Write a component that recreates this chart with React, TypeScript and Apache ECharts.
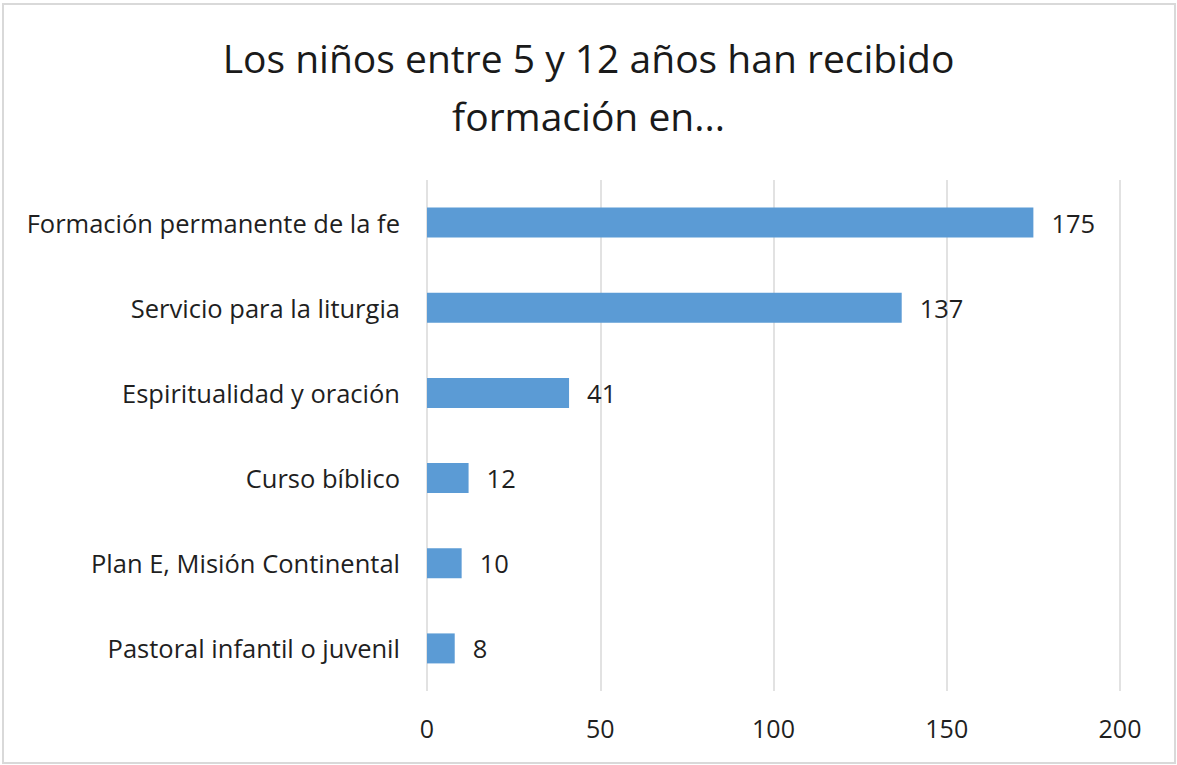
import React, { useEffect, useRef } from "react";
import * as echarts from "echarts";

const categories = [
  "Formación permanente de la fe",
  "Servicio para la liturgia",
  "Espiritualidad y oración",
  "Curso bíblico",
  "Plan E, Misión Continental",
  "Pastoral infantil o juvenil",
];
const values = [175, 137, 41, 12, 10, 8];
const titleText = "Los niños entre 5 y 12 años han recibido\nformación en...";
const xMin = 0;
const xMax = 200;
const xInterval = 50;

const FONT = "Open Sans";

export default function App() {
  const ref = useRef<HTMLDivElement>(null);
  useEffect(() => {
    if (!ref.current) return;
    const chart = echarts.init(ref.current, undefined, { renderer: "svg" });
    chart.setOption({
      animation: false,
      backgroundColor: "#ffffff",
      title: {
        text: titleText,
        left: "center",
        top: 23,
        textStyle: {
          fontFamily: FONT,
          fontSize: 39,
          fontWeight: "normal",
          color: "#1a1a1a",
          lineHeight: 58,
        },
      },
      graphic: [
        {
          type: "rect",
          shape: { x: 3, y: 4, width: 1172, height: 759 },
          style: { fill: "none", stroke: "#d9d9d9", lineWidth: 2 },
          silent: true,
        },
      ],
      grid: { left: 427, right: 57, top: 180, bottom: 74, containLabel: false },
      xAxis: {
        type: "value",
        min: xMin,
        max: xMax,
        interval: xInterval,
        axisLine: { show: false },
        axisTick: { show: false },
        splitLine: { show: true, lineStyle: { color: "#d9d9d9", width: 1.5 } },
        axisLabel: {
          fontFamily: FONT,
          fontSize: 25,
          color: "#1f1f1f",
          margin: 24,
        },
      },
      yAxis: {
        type: "category",
        data: categories,
        inverse: true,
        axisLine: { show: false },
        axisTick: { show: false },
        axisLabel: {
          fontFamily: FONT,
          fontSize: 25.5,
          color: "#1f1f1f",
          margin: 27,
        },
      },
      series: [
        {
          type: "bar",
          data: values,
          barWidth: 30,
          itemStyle: { color: "#5b9bd5" },
          label: {
            show: true,
            position: "right",
            distance: 18,
            fontFamily: FONT,
            fontSize: 25.5,
            color: "#1f1f1f",
          },
        },
      ],
    });
    return () => chart.dispose();
  }, []);
  return (
    <div
      ref={ref}
      style={{ position: "fixed", left: 0, top: 0, width: 1177, height: 765 }}
    />
  );
}
